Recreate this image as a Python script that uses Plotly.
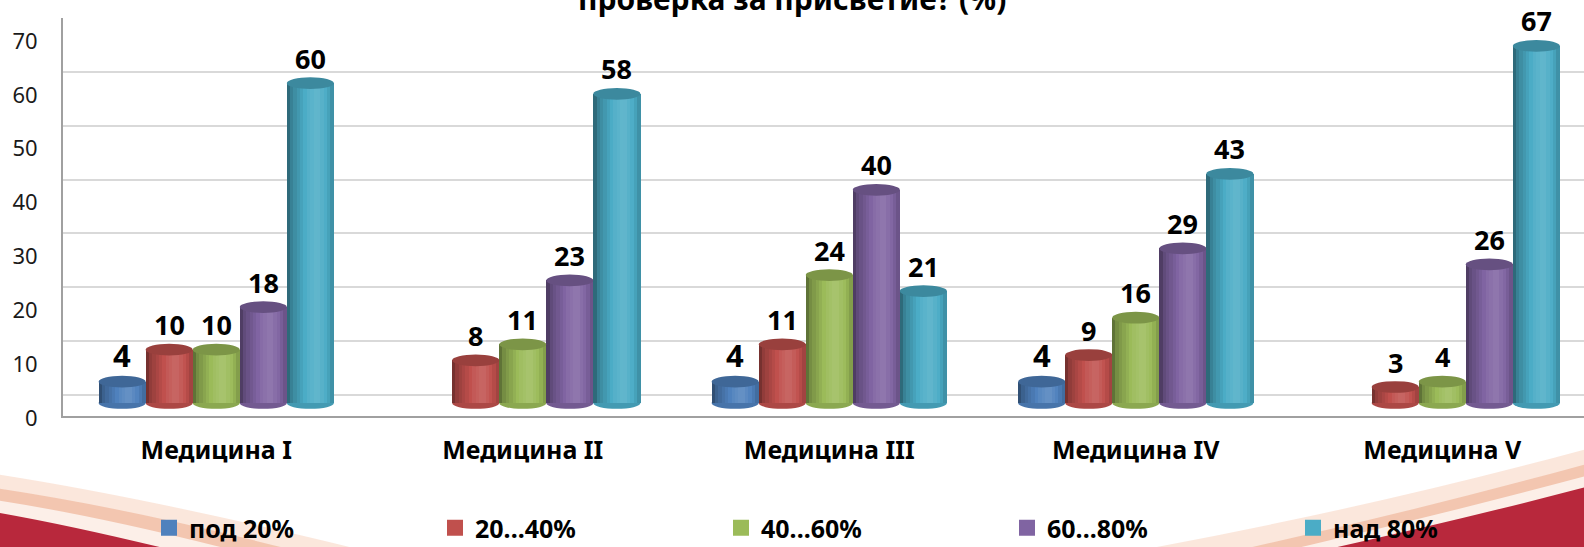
import plotly.graph_objects as go

# ---------------- data ----------------
categories = ["Медицина I", "Медицина II", "Медицина III", "Медицина IV", "Медицина V"]
series_names = ["под 20%", "20...40%", "40...60%", "60...80%", "над 80%"]
pod_20 = [4, None, 4, 4, None]
s_20_40 = [10, 8, 11, 9, 3]
s_40_60 = [10, 11, 24, 16, 4]
s_60_80 = [18, 23, 40, 29, 26]
nad_80 = [60, 58, 21, 43, 67]
series_values = [pod_20, s_20_40, s_40_60, s_60_80, nad_80]
y_ticks = [0, 10, 20, 30, 40, 50, 60, 70]
title_text = "проверка за присветие? (%)"

# ---------------- styling ----------------
colors = ["#4F81BD", "#C0504D", "#9BBB59", "#8064A2", "#4BACC6"]
FONT = "Noto Sans"
W, H = 1584, 547
L, R, T, B = 63, 1584, 18, 416

def px(x):
    return (x - L) / (R - L)

def py(y):
    return (B - y) / (B - T)

def hex2rgb(h):
    h = h.lstrip("#")
    return tuple(int(h[i:i + 2], 16) for i in (0, 2, 4))

def shade(h, f):
    r, g, b = hex2rgb(h)
    if f <= 1:
        c = [int(v * f) for v in (r, g, b)]
    else:
        t = f - 1
        c = [int(v + (255 - v) * t) for v in (r, g, b)]
    return "rgb(%d,%d,%d)" % tuple(max(0, min(255, v)) for v in c)

# cylinder shading profile (left->right)
prof_pts = [(0.0, 0.55), (0.12, 0.78), (0.45, 1.05), (0.65, 1.14), (0.85, 1.0), (1.0, 0.8)]

def profile(f):
    for (a, va), (b, vb) in zip(prof_pts[:-1], prof_pts[1:]):
        if a <= f <= b:
            return va + (vb - va) * (f - a) / (b - a)
    return 1.0

bw = 0.1535          # bar width in category units
NSTRIP = 14
cap_h = 2.2          # ellipse height in value units
cat_px = 306.5       # pixel width of one category slot

fig = go.Figure()
shapes = []
annotations = []

for j, (name, vals, col) in enumerate(zip(series_names, series_values, colors)):
    xs = [i + (j - 2) * bw for i in range(len(categories))]
    for k in range(NSTRIP):
        f = (k + 0.5) / NSTRIP
        sx = [x + (f - 0.5) * bw for x in xs]
        fig.add_trace(go.Bar(
            x=sx, y=vals, width=bw / NSTRIP * 1.08,
            marker=dict(color=shade(col, profile(f)), line=dict(width=0)),
            showlegend=False, hoverinfo="skip",
        ))
    for x, v in zip(xs, vals):
        if v is None:
            continue
        shapes.append(dict(type="circle", xref="x", yref="y", layer="between",
                           x0=x - bw / 2, x1=x + bw / 2, y0=-cap_h / 2, y1=cap_h / 2,
                           fillcolor=shade(col, 0.9), line=dict(width=0)))
        shapes.append(dict(type="circle", xref="x", yref="y", layer="above",
                           x0=x - bw / 2, x1=x + bw / 2, y0=v - cap_h / 2, y1=v + cap_h / 2,
                           fillcolor=shade(col, 0.8), line=dict(width=0)))
        annotations.append(dict(x=x, y=v, xref="x", yref="y", text="<b>%d</b>" % v,
                                showarrow=False, yanchor="middle", yshift=25 if j else 27,
                                font=dict(family=FONT, size=31 if j == 0 else 27, color="black")))
    # legend proxy
    fig.add_trace(go.Scatter(x=[None], y=[None], yaxis="y2", mode="markers", name=name,
                             marker=dict(symbol="square", size=18, color=col),
                             showlegend=True))

# title (its upper part is cut by the page top, as in the original)
annotations.append(dict(x=px(792), y=py(-1), xref="paper", yref="paper",
                        text="<b>" + title_text + "</b>", showarrow=False,
                        xanchor="center", yanchor="middle",
                        font=dict(family=FONT, size=30, color="black")))

# decorative template swooshes
def path(pts):
    (x0, y0) = pts[0]
    s = "M %f,%f" % (px(x0), py(y0))
    for p in pts[1:]:
        if len(p) == 4:
            s += " Q %f,%f %f,%f" % (px(p[0]), py(p[1]), px(p[2]), py(p[3]))
        else:
            s += " L %f,%f" % (px(p[0]), py(p[1]))
    return s + " Z"

deco = [
    ([(-5, 474), (150, 498, 370, 552), (-5, 552)], "#FBE4D8", 0.9),
    ([(-5, 488), (130, 508, 300, 552), (-5, 552)], "#F2C2AB", 0.9),
    ([(-5, 500), (100, 516, 240, 552), (-5, 552)], "#FCEFE8", 1.0),
    ([(-5, 512), (75, 526, 180, 552), (-5, 552)], "#B8283C", 1.0),
    ([(1130, 552), (1370, 508, 1590, 448), (1590, 552)], "#FBE4D8", 0.9),
    ([(1230, 552), (1420, 510, 1590, 463), (1590, 552)], "#F2C2AB", 0.9),
    ([(1280, 552), (1440, 515, 1590, 475), (1590, 552)], "#FCEFE8", 1.0),
    ([(1315, 552), (1460, 520, 1590, 486), (1590, 552)], "#B8283C", 1.0),
]
for pts, c, op in deco:
    shapes.append(dict(type="path", xref="paper", yref="paper", layer="below",
                       path=path(pts), fillcolor=c, opacity=op, line=dict(width=0)))

fig.update_layout(
    width=W, height=H,
    margin=dict(l=L, r=W - R, t=T, b=H - B, pad=0),
    paper_bgcolor="white", plot_bgcolor="rgba(0,0,0,0)",
    barmode="overlay", bargap=0,
    showlegend=True,
    legend=dict(orientation="h", xref="container", yref="container",
                x=149 / W, y=1 - 528 / H, xanchor="left", yanchor="middle",
                entrywidthmode="pixels", entrywidth=241,
                font=dict(family=FONT, size=25, color="black", weight="bold"),
                bgcolor="rgba(0,0,0,0)", itemsizing="trace"),
    xaxis=dict(range=[-0.5, -0.5 + (R - L) / cat_px], tickvals=list(range(len(categories))),
               ticktext=["<b>%s</b>" % c for c in categories],
               tickfont=dict(family=FONT, size=25, color="black"),
               showgrid=False, zeroline=False, showline=True, linecolor="#A0A0A0",
               linewidth=2, ticks="", ticklabelstandoff=11, fixedrange=True),
    yaxis=dict(range=[-(B - 403) / 5.33, (403 - T) / 5.33], visible=False,
               showgrid=False, zeroline=False, fixedrange=True),
    yaxis2=dict(overlaying="y", side="left", range=[-(B - 395) / 5.386, 70.02],
                tickvals=y_ticks, showgrid=True, gridcolor="#D9D9D9", gridwidth=2,
                zeroline=False, showline=True, linecolor="#A0A0A0", linewidth=2,
                ticks="", ticklabelshift=23, ticklabelstandoff=19,
                tickfont=dict(family=FONT, size=22, color="#1a1a1a"), fixedrange=True),
    shapes=shapes,
    annotations=annotations,
    font=dict(family=FONT),
)

fig.write_html("out.html", config={"displayModeBar": False},
               post_script="document.body.style.margin='0';")
